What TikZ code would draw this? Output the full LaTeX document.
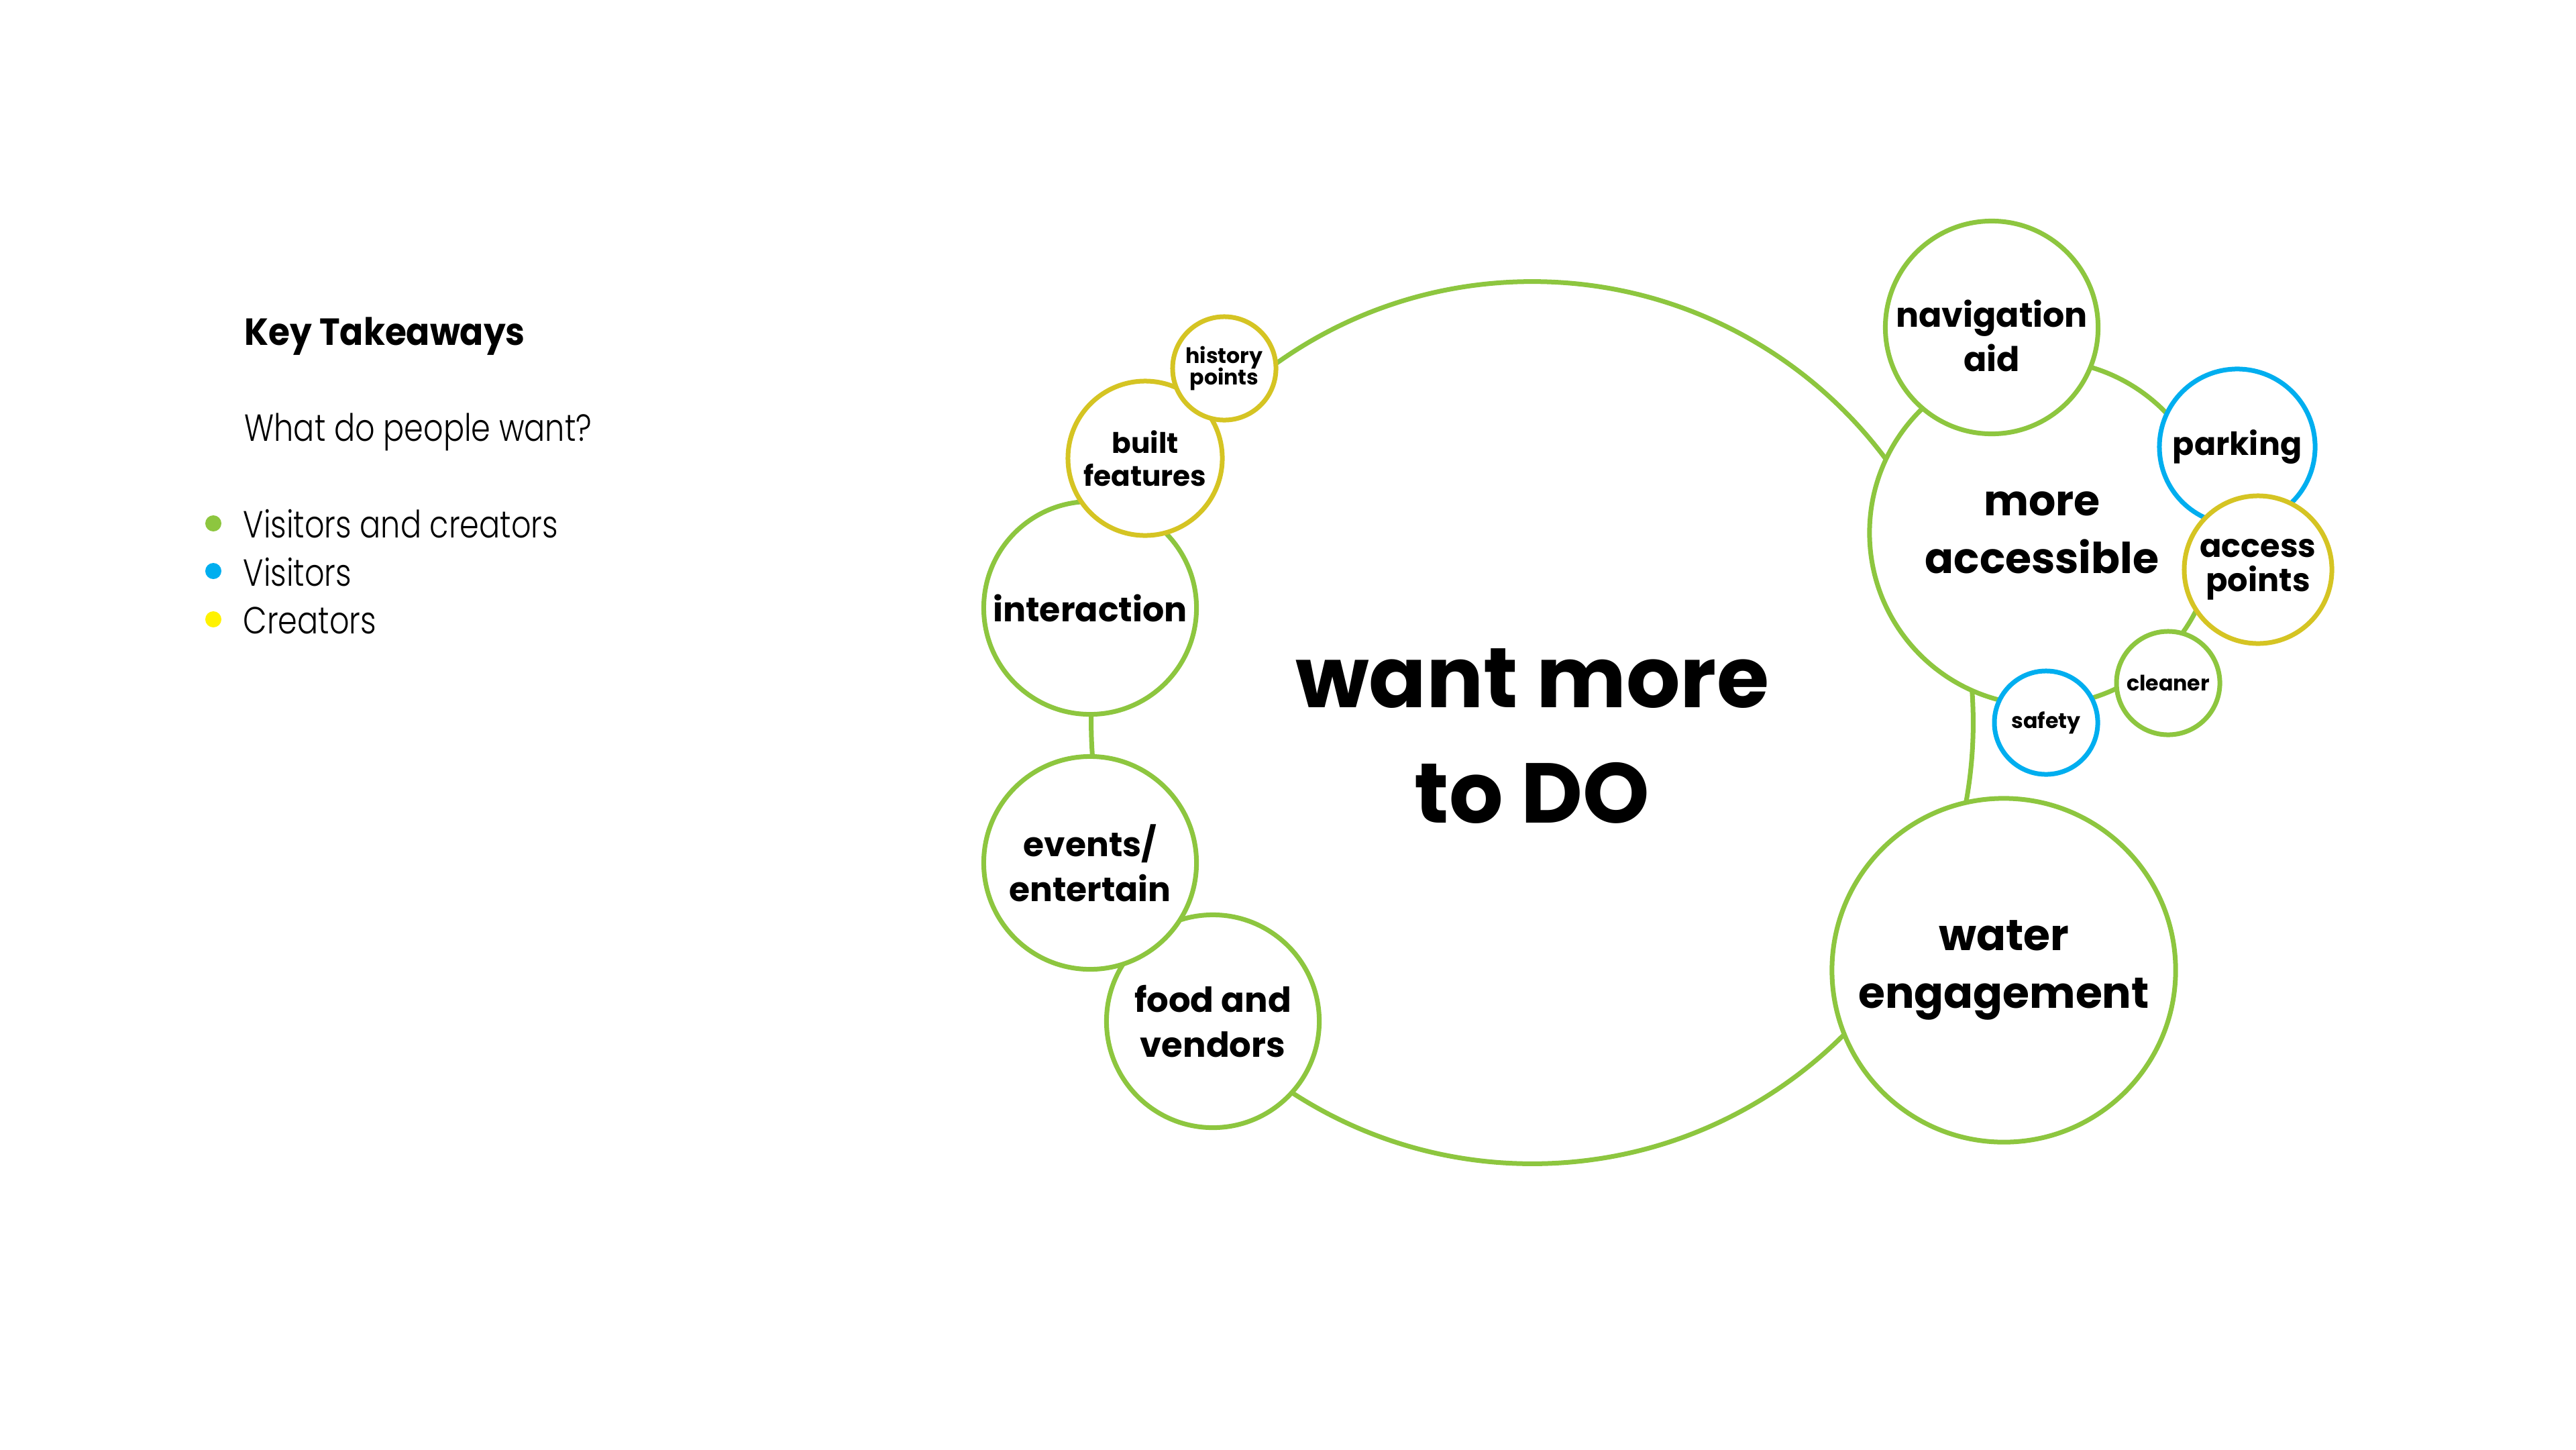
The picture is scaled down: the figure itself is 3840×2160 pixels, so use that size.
\documentclass[tikz,border=0pt]{standalone}
\usepackage{fontspec}
\setmainfont{Poppins}
\IfFontExistsTF{Poppins Light}{\newfontfamily\legendfont{Poppins Light}[FakeStretch=0.82]}{\newfontfamily\legendfont{Poppins}[FakeStretch=0.82]}
\newfontfamily\bubfont{Poppins}[UprightFont=* Bold]
\newfontfamily\titlefont{Poppins}[UprightFont=* Bold, FakeStretch=0.92]
\newcommand{\tightlines}{\setlength{\lineskiplimit}{-100pt}}
\definecolor{cgreen}{RGB}{141,198,63}
\definecolor{cblue}{RGB}{0,174,239}
\definecolor{cyel}{RGB}{213,196,35}
\definecolor{cdot}{RGB}{255,242,0}
\tikzset{
  bub/.style={circle, draw=cgreen, fill=white, line width=0.07cm, align=center, inner sep=0pt, text=black},
  fs/.style n args={2}{font={\bubfont\fontsize{#1}{#2}\selectfont\tightlines}},
  leg/.style={anchor=base west, inner sep=0pt, font=\legendfont\fontsize{16}{20}\selectfont},
  legdot/.style={circle, inner sep=0pt, minimum size=0.24cm}
}
\begin{document}
\begin{tikzpicture}[x=0.01cm,y=-0.01cm]
\useasboundingbox (0,0) rectangle (3840,2160);
% legend
\node[anchor=base west, inner sep=0pt, font=\titlefont\fontsize{16}{20}\selectfont] (title) at (364,514) {Key Takeaways};
\node[leg] (question) at (364,657) {What do people want?};
\node[leg] (item1) at (362,801) {Visitors and creators};
\node[leg] (item2) at (362,873) {Visitors};
\node[leg] (item3) at (362,944) {Creators};
\node[legdot, fill=cgreen] (dot1) at (318,780) {};
\node[legdot, fill=cblue] (dot2) at (318,851) {};
\node[legdot, fill=cdot] (dot3) at (318,923) {};
% main
\node[bub, minimum size=13.14cm] (main) at (2284,1077) {};
\node[align=center, inner sep=0pt, fs={36}{49}] (mainlabel) at (2284,1097) {want more\\to DO};
% left cluster
\node[bub, minimum size=3.17cm, fs={14.4}{19}] (interaction) at (1625,906) {interaction};
\node[bub, draw=cyel, minimum size=2.3cm, fs={12}{13.8}] (built) at (1707,683) {built\\features};
\node[bub, draw=cyel, minimum size=1.54cm, fs={9}{9.1}] (history) at (1825,549) {history\\points};
\node[bub, minimum size=3.17cm, fs={14.6}{19.2}] (food) at (1808,1522) {food and\\vendors};
\node[bub, minimum size=3.17cm, fs={14.3}{19}] (events) at (1625,1286) {events/\\entertain};
% right cluster
\node[bub, minimum size=5.14cm, fs={18}{24.5}] (access) at (3044,794) {more\\accessible};
\node[bub, minimum size=3.17cm] (nav) at (2969,488) {};
\node[inner sep=0pt, align=center, fs={14.4}{18.8}] (navlabel) at (2969,500) {navigation\\aid};
\node[bub, draw=cblue, minimum size=2.32cm, fs={13.5}{16}] (parking) at (3335,666) {parking};
\node[bub, draw=cyel, minimum size=2.2cm, fs={13.6}{14.5}] (points) at (3366,849) {access\\points};
\node[bub, minimum size=1.54cm, fs={9}{11}] (cleaner) at (3232,1018) {cleaner};
\node[bub, draw=cblue, minimum size=1.54cm, fs={9}{11}] (safety) at (3050,1077) {safety};
\node[bub, minimum size=5.12cm, fs={18.4}{24.5}] (water) at (2987,1446) {water\\engagement};
\end{tikzpicture}
\end{document}
